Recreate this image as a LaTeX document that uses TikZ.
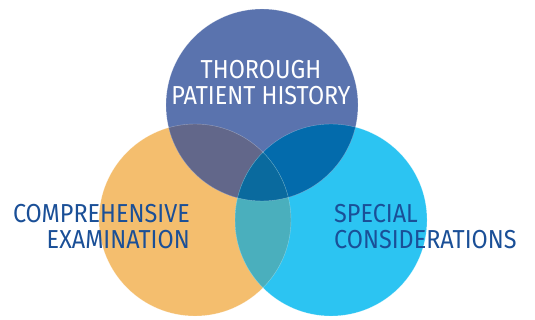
\documentclass[tikz,border=0pt]{standalone}
\usepackage{fontspec}
\setmainfont{Fira Sans}[FakeStretch=0.9]

\definecolor{histblue}{HTML}{5A73AE}
\definecolor{examorange}{HTML}{F4BE6E}
\definecolor{specialcyan}{HTML}{2CC4F2}
\definecolor{histexam}{HTML}{62678A}
\definecolor{histspecial}{HTML}{036BAC}
\definecolor{examspecial}{HTML}{4AAFBD}
\definecolor{allthree}{HTML}{0A6A9E}
\definecolor{textblue}{HTML}{1A4F97}

\begin{document}
\begin{tikzpicture}[x=1pt,y=-1pt,
  venntext/.style={inner sep=0pt, align=center, font=\fontsize{26}{26}\selectfont, text=textblue},
  rim/.style={draw=white, draw opacity=0.35, line width=0.4pt}]
\useasboundingbox (0,0) rectangle (535,320);

\coordinate (hist) at (262,105);
\coordinate (exam) at (195,220);
\coordinate (special) at (331,220);

% the three circles
\fill[examorange] (exam) circle (96pt);
\fill[specialcyan] (special) circle (96pt);
\fill[histblue] (hist) circle (96pt);

% overlaps
\begin{scope}
  \clip (hist) circle (96pt);
  \fill[histexam] (exam) circle (96pt);
  \fill[histspecial] (special) circle (96pt);
\end{scope}
\begin{scope}
  \clip (exam) circle (96pt);
  \fill[examspecial] (special) circle (96pt);
  \clip (special) circle (96pt);
  \fill[allthree] (hist) circle (96pt);
\end{scope}

% faint edges
\draw[rim] (hist) circle (96pt);
\draw[rim] (exam) circle (96pt);
\draw[rim] (special) circle (96pt);

\node[venntext, text=white, anchor=north] (histtext) at (261,60) {THOROUGH\\PATIENT HISTORY};
\node[venntext, align=right, anchor=north east] (examtext) at (190,204) {COMPREHENSIVE\\EXAMINATION};
\node[venntext, align=left, anchor=north west] (specialtext) at (334,204) {SPECIAL\\CONSIDERATIONS};
\end{tikzpicture}
\end{document}
